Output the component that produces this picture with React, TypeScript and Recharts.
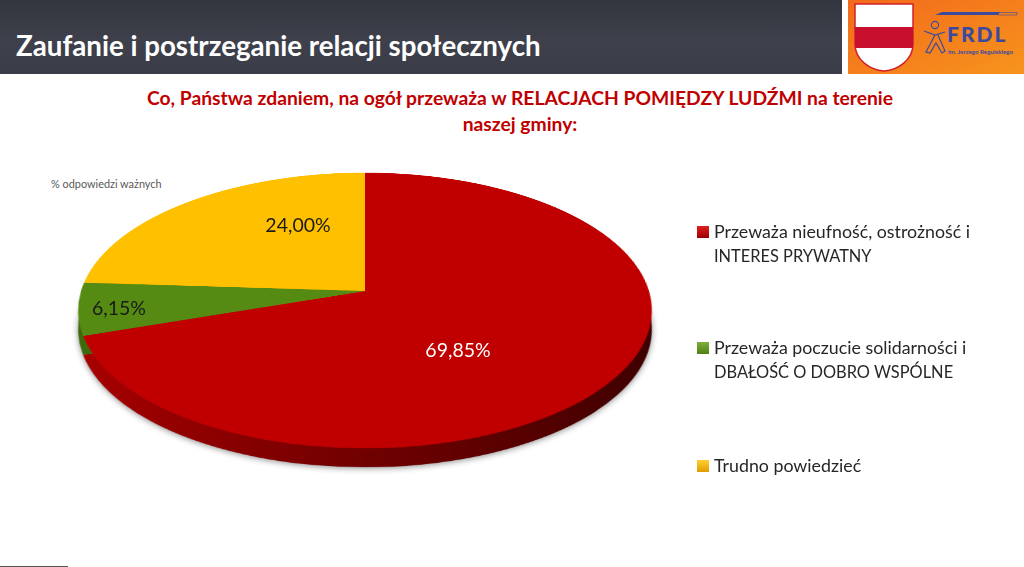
import { Pie, PieChart, Cell } from "recharts";

const categories = [
  "Przeważa nieufność, ostrożność i INTERES PRYWATNY",
  "Przeważa poczucie solidarności i DBAŁOŚĆ O DOBRO WSPÓLNE",
  "Trudno powiedzieć",
];
const legendLines = [
  ["Przeważa nieufność, ostrożność i", "INTERES PRYWATNY"],
  ["Przeważa poczucie solidarności i", "DBAŁOŚĆ O DOBRO WSPÓLNE"],
  ["Trudno powiedzieć"],
];
const values = [69.85, 6.15, 24.0];
const colors = ["#c00000", "#558b12", "#ffc000"];
const rimColors = ["url(#rimRed)", "#3f6a0c", "#c09000"];
const legendColors = [
  ["#e02020", "#9c0000"],
  ["#7fb03c", "#4d7f12"],
  ["#ffd030", "#e09c00"],
];
const labelColors = ["#ffffff", "#1a1a1a", "#1a1a1a"];
const labelPos = [
  [458, 350],
  [119, 308],
  [298, 225],
];
const legendTops = [220, 336, 454];

const data = categories.map((name, i) => ({ name, value: values[i] }));
const formatPct = (v: number) => v.toFixed(2).replace(".", ",") + "%";

const font = "Lato, 'Open Sans', sans-serif";
const SIZE = 600;
const tilt = "perspective(1771px) rotateX(61.6deg)";

const Disc = ({ fills, defs }: { fills: string[]; defs?: boolean }) => (
  <PieChart width={SIZE} height={SIZE} margin={{ top: 0, right: 0, bottom: 0, left: 0 }}>
    {defs && (
      <defs>
        <linearGradient id="rimRed" x1="0" y1="0" x2="1" y2="0">
          <stop offset="0%" stopColor="#a80000" />
          <stop offset="45%" stopColor="#740000" />
          <stop offset="100%" stopColor="#3c0000" />
        </linearGradient>
      </defs>
    )}
    <Pie
      data={data}
      dataKey="value"
      cx={SIZE / 2}
      cy={SIZE / 2}
      outerRadius={284}
      startAngle={90}
      endAngle={-270}
      stroke="none"
      label={false}
      labelLine={false}
      isAnimationActive={false}
    >
      {data.map((d, i) => (
        <Cell key={d.name} fill={fills[i]} />
      ))}
    </Pie>
  </PieChart>
);

const discStyle = (dy: number): React.CSSProperties => ({
  position: "absolute",
  left: 365 - SIZE / 2,
  top: 291 - SIZE / 2 + dy,
  width: SIZE,
  height: SIZE,
  transform: tilt,
  transformOrigin: "50% 50%",
});

const Header = () => (
  <>
    <div
      style={{
        position: "absolute",
        left: 0,
        top: 0,
        width: 842,
        height: 74,
        background: "linear-gradient(180deg,#33363f 0%,#3e414b 55%,#3a3d47 100%)",
      }}
    />
    <div
      style={{
        position: "absolute",
        left: 16,
        top: 29,
        fontFamily: font,
        fontWeight: 700,
        fontSize: 27.7,
        color: "#fff",
        whiteSpace: "nowrap",
      }}
    >
      Zaufanie i postrzeganie relacji społecznych
    </div>
    <svg style={{ position: "absolute", left: 848, top: 0 }} width={176} height={74}>
      <defs>
        <linearGradient id="orangeBg" x1="0" y1="0" x2="1" y2="1">
          <stop offset="0%" stopColor="#f26a1b" />
          <stop offset="100%" stopColor="#f7941d" />
        </linearGradient>
      </defs>
      <rect width={176} height={74} fill="url(#orangeBg)" />
      <path d="M7 4H65V44C65 60 50 70 36 71C22 70 7 60 7 44Z" fill="#fff" stroke="#d2202a" strokeWidth={1.5} />
      <rect x={7} y={27} width={58} height={21} fill="#c8102e" />
      <path d="M87 15L94 12H152L150 15Z" fill="#3b4a9f" />
      <path d="M150 12.5H169V15H150Z" fill="none" stroke="#3b4a9f" strokeWidth={0.6} />
      <circle cx={87} cy={25} r={3.6} fill="none" stroke="#3b4a9f" strokeWidth={1.1} />
      <path d="M76 31L87 35L97 32M87 35L78 52L82 53L88 43L94 53L97 51L90 35" stroke="#3b4a9f" strokeWidth={1.2} fill="none" />
      <text x={99} y={42} fontFamily={font} fontWeight={900} fontSize={21} letterSpacing={2} fill="#3b4a9f">
        FRDL
      </text>
      <text x={100} y={54} fontFamily={font} fontWeight={700} fontSize={6.2} fill="#3b4a9f">
        im. Jerzego Regulskiego
      </text>
    </svg>
  </>
);

export default function App() {
  return (
    <div
      style={{
        position: "absolute",
        left: 0,
        top: 0,
        width: 1024,
        height: 567,
        overflow: "hidden",
        background: "#fff",
        fontFamily: font,
      }}
    >
      <Header />
      <div
        style={{
          position: "absolute",
          left: 80,
          width: 880,
          top: 85,
          textAlign: "center",
          color: "#c00000",
          fontWeight: 700,
          fontSize: 19.3,
          lineHeight: "26px",
        }}
      >
        Co, Państwa zdaniem, na ogół przeważa w RELACJACH POMIĘDZY LUDŹMI na terenie
        <br />
        naszej gminy:
      </div>
      <div style={{ position: "absolute", left: 51, top: 177, fontSize: 10.9, color: "#595959" }}>
        % odpowiedzi ważnych
      </div>

      <div style={{ position: "absolute", inset: 0, filter: "drop-shadow(0 1px 3px rgba(0,0,0,0.45))" }}>
        <div style={discStyle(19)}>
          <Disc fills={rimColors} defs />
        </div>
      </div>
      <div style={discStyle(0)}>
        <Disc fills={colors} />
      </div>

      {values.map((v, i) => (
        <div
          key={categories[i]}
          style={{
            position: "absolute",
            left: labelPos[i][0] - 50,
            top: labelPos[i][1] - 12,
            width: 100,
            textAlign: "center",
            fontSize: 19.5,
            lineHeight: "24px",
            color: labelColors[i],
          }}
        >
          {formatPct(v)}
        </div>
      ))}

      {legendLines.map((lines, i) => (
        <div key={categories[i]} style={{ position: "absolute", left: 697, top: legendTops[i] }}>
          <div
            style={{
              position: "absolute",
              left: 0,
              top: 6,
              width: 12,
              height: 12,
              background: `linear-gradient(180deg,${legendColors[i][0]},${legendColors[i][1]})`,
            }}
          />
          <div
            style={{
              marginLeft: 17,
              fontSize: 17.8,
              lineHeight: "23.5px",
              color: "#262626",
              whiteSpace: "nowrap",
            }}
          >
            {lines.map((l) => (
              <div key={l} style={l === l.toUpperCase() ? { fontSize: 16.4 } : undefined}>
                {l}
              </div>
            ))}
          </div>
        </div>
      ))}

      <div style={{ position: "absolute", left: 0, top: 566, width: 68, height: 1, background: "#555" }} />
    </div>
  );
}
